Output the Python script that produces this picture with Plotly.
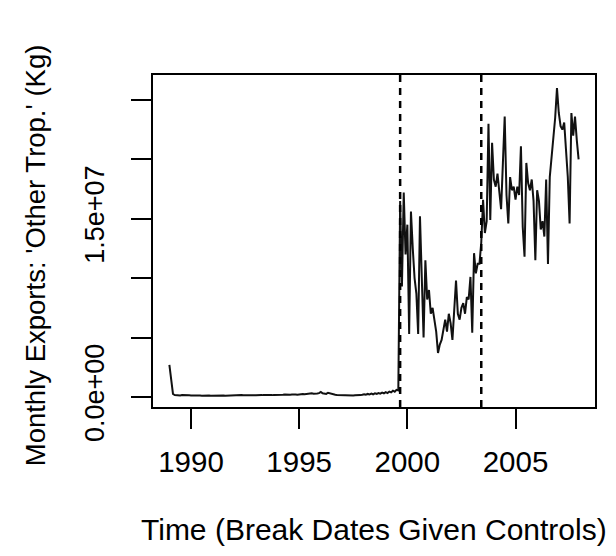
import plotly.graph_objects as go

# ---- data (monthly exports, millions of kg), Jan 1989 .. Dec 2007 ----
start_year = 1989
exports_1989_1993 = [
    2.7, 1.3, 0.25, 0.15, 0.12, 0.14, 0.12, 0.15, 0.13, 0.12, 0.14, 0.13,
    0.12, 0.13, 0.11, 0.12, 0.14, 0.12, 0.10, 0.12, 0.13, 0.11, 0.12, 0.10,
    0.11, 0.12, 0.10, 0.13, 0.12, 0.11, 0.12, 0.10, 0.11, 0.13, 0.12, 0.11,
    0.12, 0.14, 0.12, 0.13, 0.15, 0.13, 0.12, 0.14, 0.13, 0.15, 0.14, 0.13,
    0.14, 0.16, 0.15, 0.17, 0.15, 0.14, 0.16, 0.18, 0.16, 0.15, 0.17, 0.16,
]
exports_1994_1998 = [
    0.18, 0.17, 0.19, 0.18, 0.20, 0.18, 0.21, 0.19, 0.20, 0.22, 0.21, 0.19,
    0.22, 0.20, 0.24, 0.22, 0.25, 0.23, 0.26, 0.30, 0.27, 0.25, 0.28, 0.32,
    0.42, 0.30, 0.28, 0.25, 0.35, 0.30, 0.22, 0.20, 0.18, 0.16, 0.15, 0.14,
    0.13, 0.12, 0.11, 0.12, 0.10, 0.11, 0.12, 0.14, 0.13, 0.16, 0.15, 0.18,
    0.22, 0.18, 0.25, 0.20, 0.28, 0.22, 0.30, 0.26, 0.33, 0.28, 0.36, 0.30,
]
exports_1999_2003 = [
    0.40, 0.32, 0.45, 0.38, 0.52, 0.44, 0.60, 0.55, 16.5, 9.3, 17.2, 12.0,
    14.5, 5.3, 15.6, 12.5, 10.0, 8.7, 5.3, 15.2, 9.5, 5.0, 11.5, 8.2,
    9.0, 7.0, 7.5, 6.5, 5.5, 3.7, 4.4, 4.8, 5.8, 6.5, 5.5, 7.0,
    6.2, 4.8, 7.3, 9.8, 7.0, 6.5, 7.5, 7.9, 7.0, 8.4, 8.2, 10.1,
    5.4, 12.1, 10.4, 11.2, 11.2, 13.0, 16.6, 13.8, 14.8, 23.0, 14.9, 21.4,
]
exports_2004_2007 = [
    18.3, 17.7, 18.8, 17.1, 15.8, 19.7, 23.6, 17.0, 14.6, 18.5, 17.4, 17.7,
    16.6, 17.7, 17.0, 21.1, 14.3, 11.8, 19.7, 18.0, 17.4, 18.3, 16.5, 11.5,
    17.4, 16.5, 14.1, 14.8, 13.5, 18.3, 11.2, 18.5, 20.2, 21.6, 23.5, 26.0,
    23.9, 22.8, 22.5, 23.1, 21.1, 18.5, 14.6, 23.9, 22.0, 23.6, 21.6, 20.0,
]
exports_millions_kg = exports_1989_1993 + exports_1994_1998 + exports_1999_2003 + exports_2004_2007
break_dates = [1999 + 8 / 12, 2003 + 5 / 12]

x_tick_vals = [1990, 1995, 2000, 2005]
x_tick_text = ["1990", "1995", "2000", "2005"]
y_tick_vals = [0, 5e6, 1e7, 1.5e7, 2e7, 2.5e7]
y_tick_text = ["0.0e+00", "", "", "1.5e+07", "", ""]

x_title = "Time (Break Dates Given Controls)"
y_title = "Monthly Exports: 'Other Trop.' (Kg)"

# ---- build figure ----
time = [start_year + i / 12 for i in range(len(exports_millions_kg))]
values = [v * 1e6 for v in exports_millions_kg]

FONT = "Liberation Sans, Arial, Helvetica, sans-serif"
fig = go.Figure()
fig.add_trace(go.Scatter(x=time, y=values, mode="lines",
                         line=dict(color="#111111", width=2), showlegend=False,
                         hoverinfo="skip"))
for bd in break_dates:
    fig.add_shape(type="line", xref="x", yref="paper", x0=bd, x1=bd, y0=0, y1=1,
                  line=dict(color="black", width=2.5, dash="7px,6px"))

fig.update_layout(
    width=600, height=540, autosize=False,
    margin=dict(l=145, r=13, t=67, b=141),
    paper_bgcolor="white", plot_bgcolor="white",
    font=dict(family=FONT, size=27, color="black"),
    xaxis=dict(range=[1988.243, 2008.674], tickvals=x_tick_vals, ticktext=x_tick_text,
               ticks="outside", ticklen=20, tickwidth=2, tickcolor="black",
               tickfont=dict(family=FONT, size=29.5, color="black"),
               showline=True, linewidth=2, linecolor="black", mirror=True,
               showgrid=False, zeroline=False, ticklabelstandoff=8),
    yaxis=dict(range=[-0.85e6, 27.1e6], tickvals=y_tick_vals, ticktext=y_tick_text,
               tickangle=-90, ticks="outside", ticklen=20, tickwidth=2, tickcolor="black",
               tickfont=dict(family=FONT, size=27, color="black"),
               showline=True, linewidth=2, linecolor="black", mirror=True,
               showgrid=False, zeroline=False, ticklabelstandoff=16),
    annotations=[
        dict(text=x_title, xref="paper", yref="paper", x=0.5, y=-0.37,
             xanchor="center", yanchor="middle", showarrow=False,
             font=dict(family=FONT, size=30, color="black")),
        dict(text=y_title, xref="paper", yref="paper", x=-0.267, y=0.457, textangle=-90,
             xanchor="center", yanchor="middle", showarrow=False,
             font=dict(family=FONT, size=27.5, color="black")),
    ],
)

fig.write_html("out.html")
